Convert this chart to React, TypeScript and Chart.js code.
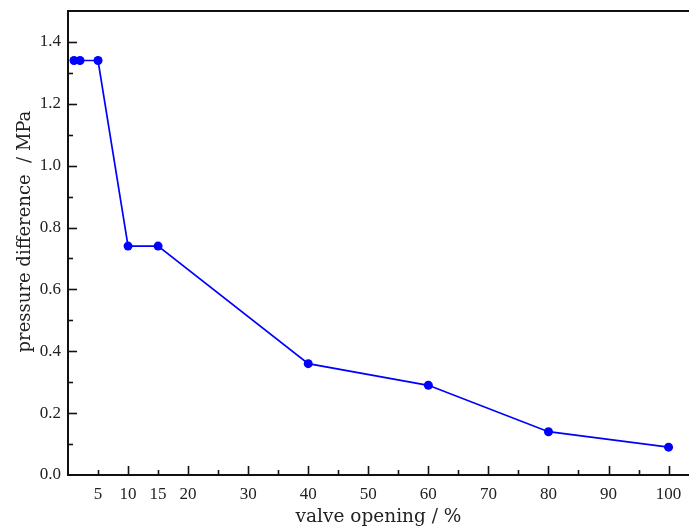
import React, { useEffect, useRef } from "react";
import { Chart, registerables } from "chart.js";

Chart.register(...registerables);

const valveOpening = [1, 2, 5, 10, 15, 40, 60, 80, 100];
const pressureDiff = [1.34, 1.34, 1.34, 0.74, 0.74, 0.36, 0.29, 0.14, 0.09];
const xTickValues = [5, 10, 15, 20, 25, 30, 35, 40, 45, 50, 55, 60, 65, 70, 75, 80, 85, 90, 95, 100];
const xTickLabels = [5, 10, 15, 20, 30, 40, 50, 60, 70, 80, 90, 100];
const yTickValues = [0, 0.1, 0.2, 0.3, 0.4, 0.5, 0.6, 0.7, 0.8, 0.9, 1.0, 1.1, 1.2, 1.3, 1.4];
const yTickLabels = [0, 0.2, 0.4, 0.6, 0.8, 1.0, 1.2, 1.4];

const near = (a: number, b: number) => Math.abs(a - b) < 1e-6;

const frameTicks = {
  id: "frameTicks",
  afterDraw(chart: any) {
    const ctx = chart.ctx;
    const { left, right, top, bottom } = chart.chartArea;
    const xs = chart.scales.x;
    const ys = chart.scales.y;
    ctx.save();
    ctx.strokeStyle = "#111";
    ctx.lineWidth = 2;
    ctx.beginPath();
    ctx.moveTo(left - 1, top);
    ctx.lineTo(right, top);
    ctx.stroke();
    ctx.lineWidth = 1.6;
    for (const v of xTickValues) {
      const px = Math.round(xs.getPixelForValue(v)) + 0.5;
      const len = v % 10 === 0 ? 9 : 5;
      ctx.beginPath();
      ctx.moveTo(px, bottom);
      ctx.lineTo(px, bottom - len);
      ctx.stroke();
    }
    for (const v of yTickValues) {
      if (near(v, 0)) continue;
      const py = Math.round(ys.getPixelForValue(v)) + 0.5;
      const major = yTickLabels.some((t) => near(t, v));
      const len = major ? 9 : 5;
      ctx.beginPath();
      ctx.moveTo(left, py);
      ctx.lineTo(left + len, py);
      ctx.stroke();
    }
    ctx.restore();
  },
};

const zeroPad = (s: any) => {
  s.paddingTop = 0;
  s.paddingBottom = 0;
  s.paddingLeft = 0;
  s.paddingRight = 0;
};

export default function App() {
  const ref = useRef<HTMLCanvasElement | null>(null);
  useEffect(() => {
    document.body.style.margin = "0";
    const canvas = ref.current!;
    const chart = new Chart(canvas, {
      type: "line",
      data: {
        datasets: [
          {
            data: valveOpening.map((x, i) => ({ x, y: pressureDiff[i] })),
            borderColor: "#0000ff",
            backgroundColor: "#0000ff",
            borderWidth: 1.7,
            pointRadius: 4.5,
            pointBorderWidth: 0,
            pointBackgroundColor: "#0000ff",
            tension: 0,
            clip: false as any,
          },
        ],
      },
      options: {
        animation: false,
        responsive: false,
        devicePixelRatio: 1,
        layout: { autoPadding: false, padding: { top: 11, right: 0, left: 0, bottom: 0 } },
        plugins: { legend: { display: false }, tooltip: { enabled: false } },
        scales: {
          x: {
            type: "linear",
            min: 0,
            max: 103.4,
            grid: { display: false, drawTicks: false },
            border: { display: true, color: "#111", width: 2 },
            afterBuildTicks: (s: any) => {
              s.ticks = xTickValues.map((v) => ({ value: v }));
            },
            afterFit: (s: any) => {
              s.height = 55;
              zeroPad(s);
            },
            ticks: {
              autoSkip: false,
              maxRotation: 0,
              padding: 9,
              color: "#222",
              font: { family: "'Liberation Serif', serif", size: 17 },
              callback: (v: any) => (xTickLabels.includes(Number(v)) ? String(v) : ""),
            },
            title: {
              display: true,
              text: "valve opening / %",
              color: "#222",
              font: { family: "'DejaVu Serif', serif", size: 18.5 },
              padding: { top: 0, bottom: 2 },
            },
          },
          y: {
            type: "linear",
            min: 0,
            max: 1.5,
            grid: { display: false, drawTicks: false },
            border: { display: true, color: "#111", width: 2 },
            afterBuildTicks: (s: any) => {
              s.ticks = yTickLabels.map((v) => ({ value: v }));
            },
            afterFit: (s: any) => {
              s.width = 68;
              zeroPad(s);
            },
            ticks: {
              autoSkip: false,
              padding: 7,
              color: "#222",
              font: { family: "'Liberation Serif', serif", size: 17 },
              callback: (v: any) => Number(v).toFixed(1),
            },
            title: {
              display: true,
              text: "    pressure difference  / MPa",
              color: "#222",
              font: { family: "'DejaVu Serif', serif", size: 18 },
              padding: { top: 15, bottom: 0 },
            },
          },
        },
      },
      plugins: [frameTicks],
    });
    return () => chart.destroy();
  }, []);
  return (
    <div style={{ position: "absolute", left: 0, top: 0, width: 689, height: 530 }}>
      <canvas ref={ref} width={689} height={530} />
    </div>
  );
}
